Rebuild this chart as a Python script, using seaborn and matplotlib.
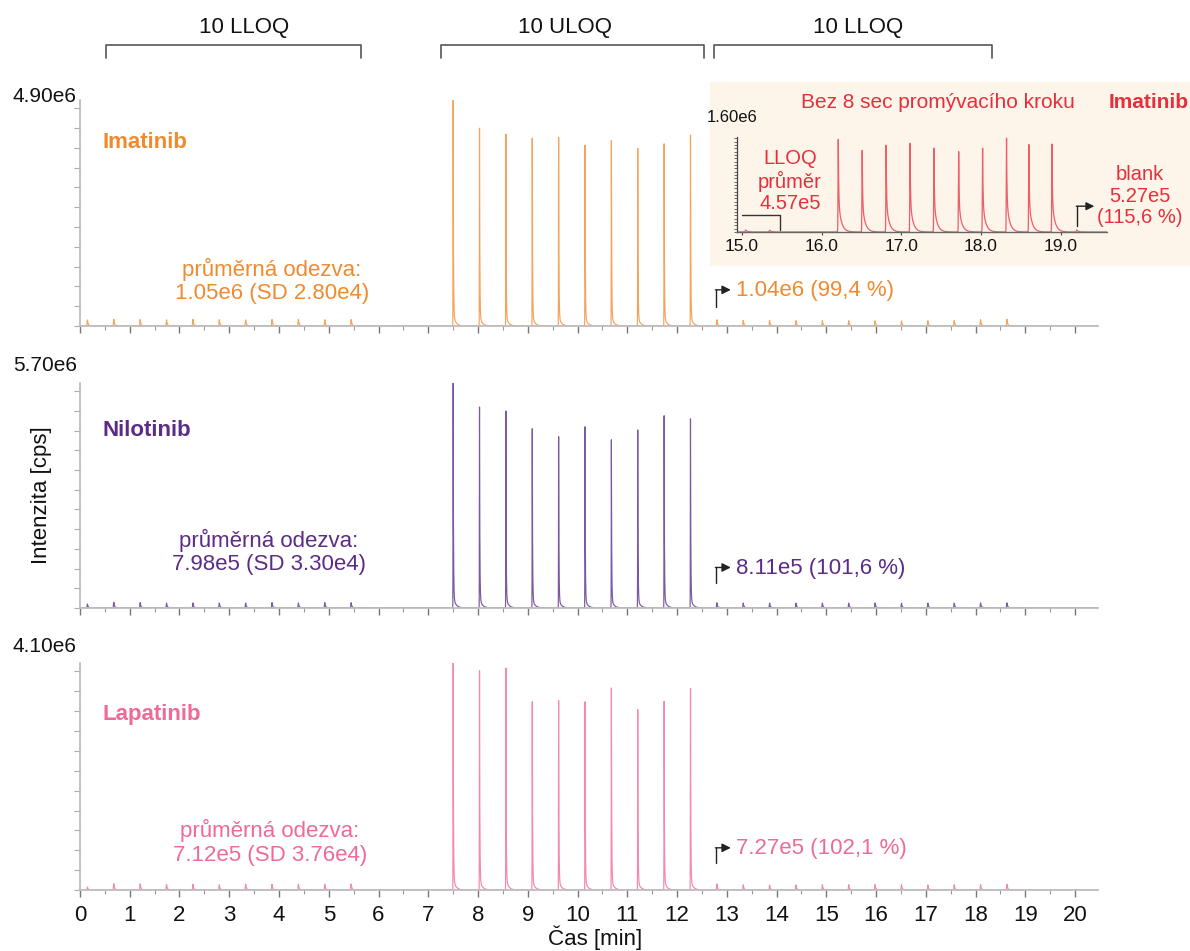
import numpy as np
import pandas as pd
import matplotlib
matplotlib.use("Agg")
import matplotlib.pyplot as plt
import matplotlib.transforms as mtransforms
from matplotlib.patches import Rectangle
from matplotlib.ticker import MultipleLocator, FixedLocator
import seaborn as sns

sns.set_theme(style="white")
plt.rcParams["font.family"] = ["Liberation Sans", "DejaVu Sans"]

# ---------------- retention times of the injections (min) ----------------
lloq_pre_times = [0.15, 0.68, 1.21, 1.74, 2.27, 2.80, 3.33, 3.86, 4.39, 4.92, 5.45]
uloq_times = [7.50, 8.03, 8.56, 9.09, 9.62, 10.15, 10.68, 11.21, 11.74, 12.27]
lloq_post_times = [12.80, 13.33, 13.86, 14.39, 14.92, 15.45, 15.98, 16.51, 17.04,
                   17.57, 18.10, 18.63]

# ---------------- apex intensities (cps) ----------------
ima_pre = [1.30e5, 1.45e5, 1.38e5, 1.33e5, 1.42e5, 1.36e5, 1.31e5, 1.40e5, 1.44e5, 1.35e5, 1.39e5]
ima_uloq = [4.90e6, 4.29e6, 4.16e6, 4.07e6, 4.09e6, 3.92e6, 4.02e6, 3.85e6, 3.95e6, 4.14e6]
ima_post = [1.35e5, 1.22e5, 1.18e5, 1.15e5, 1.16e5, 1.14e5, 1.12e5, 1.10e5, 1.15e5, 1.16e5, 1.36e5, 1.45e5]

nil_pre = [1.00e5, 1.45e5, 1.35e5, 1.25e5, 1.26e5, 1.24e5, 1.25e5, 1.36e5, 1.27e5, 1.35e5, 1.34e5]
nil_uloq = [5.70e6, 5.09e6, 4.99e6, 4.54e6, 4.34e6, 4.59e6, 4.26e6, 4.51e6, 4.87e6, 4.79e6]
nil_post = [1.30e5, 1.25e5, 1.22e5, 1.20e5, 1.24e5, 1.21e5, 1.26e5, 1.20e5, 1.23e5, 1.22e5, 1.28e5, 1.30e5]

lap_pre = [0.55e5, 1.15e5, 1.10e5, 1.05e5, 1.05e5, 0.95e5, 1.08e5, 1.05e5, 1.05e5, 1.07e5, 1.10e5]
lap_uloq = [4.10e6, 3.96e6, 4.01e6, 3.40e6, 3.42e6, 3.40e6, 3.65e6, 3.26e6, 3.41e6, 3.64e6]
lap_post = [1.10e5, 0.95e5, 0.90e5, 0.92e5, 0.95e5, 0.96e5, 0.98e5, 0.97e5, 0.92e5, 0.95e5, 1.00e5, 1.05e5]

# ---------------- inset: Imatinib without the 8 s wash step ----------------
ins_lloq_times = [15.05, 15.35]
ins_lloq = [3.5e4, 3.0e4]
ins_uloq_times = [16.21, 16.51, 16.81, 17.11, 17.41, 17.72, 18.02, 18.32, 18.60, 18.89]
ins_uloq = [1.58e6, 1.39e6, 1.48e6, 1.51e6, 1.43e6, 1.37e6, 1.43e6, 1.60e6, 1.49e6, 1.50e6]
ins_blank_times = [19.20]
ins_blank = [3.5e4]

compounds = ["Imatinib", "Nilotinib", "Lapatinib"]
y_max = [4.90e6, 5.70e6, 4.10e6]
y_max_labels = ["4.90e6", "5.70e6", "4.10e6"]
mean_labels = ["průměrná odezva:\n1.05e6 (SD 2.80e4)",
               "průměrná odezva:\n7.98e5 (SD 3.30e4)",
               "průměrná odezva:\n7.12e5 (SD 3.76e4)"]
blank_labels = ["1.04e6 (99,4 %)", "8.11e5 (101,6 %)", "7.27e5 (102,1 %)"]
bracket_labels = ["10 LLOQ", "10 ULOQ", "10 LLOQ"]
bracket_spans = [(0.52, 5.64), (7.26, 12.54), (12.74, 18.33)]
bracket_text_x = [3.30, 9.75, 15.63]

text_colors = ["#f08a2e", "#5b2c86", "#ee6a98"]
line_colors = ["#f4a35c", "#7a58a3", "#f488ae"]
RED = "#e5303b"
RED_LINE = "#ee5e69"


def chromatogram(t, times, heights, rise, fast, slow, slow_frac):
    """Sum of sharp-fronted, tailing peaks sampled on the time grid t."""
    y = np.zeros_like(t)
    for t0, h in zip(times, heights):
        dt = t - t0
        front = np.exp(-0.5 * (np.minimum(dt, 0) / rise) ** 2)
        d = np.maximum(dt, 0)
        tail = (1 - slow_frac) * np.exp(-d / fast) + slow_frac * np.exp(-d / slow)
        y += h * np.where(dt < 0, front, tail)
    return y


t = np.arange(0.0, 20.46, 0.0005)

fig = plt.figure(figsize=(11.9, 9.51), dpi=100)
left, width = 0.0672, 0.8555
positions = [(0.6572, 0.2376), (0.3607, 0.2366), (0.0641, 0.2387)]
axes = [fig.add_axes([left, b, width, h]) for b, h in positions]

series = [(ima_pre, ima_uloq, ima_post), (nil_pre, nil_uloq, nil_post),
          (lap_pre, lap_uloq, lap_post)]

name_pos = [0.81, 0.79, 0.775]
mean_pos = [(3.86, 0.20), (3.80, 0.25), (3.82, 0.21)]
arrow_y = [(0.084, 0.160), (0.111, 0.180), (0.119, 0.186)]
ymax_label_y = [1.015, 1.076, 1.075]

for i, ax in enumerate(axes):
    pre, uloq, post = series[i]
    y = (chromatogram(t, lloq_pre_times, pre, 0.006, 0.012, 0.04, 0.2)
         + chromatogram(t, uloq_times, uloq, 0.0025, 0.006, 0.05, 0.05)
         + chromatogram(t, lloq_post_times, post, 0.006, 0.012, 0.04, 0.2))
    df = pd.DataFrame({"Čas [min]": t, "cps": y})
    sns.lineplot(data=df, x="Čas [min]", y="cps", ax=ax, color=line_colors[i],
                 lw=0.85, estimator=None, sort=False, errorbar=None)
    ax.set_xlim(0, 20.46)
    ax.set_ylim(0, y_max[i])
    ax.set_xlabel("")
    ax.set_ylabel("")
    for s in ("top", "right"):
        ax.spines[s].set_visible(False)
    for s in ("left", "bottom"):
        ax.spines[s].set_color("#bdbdbd")
        ax.spines[s].set_linewidth(1.3)
    ax.xaxis.set_major_locator(MultipleLocator(1))
    ax.xaxis.set_minor_locator(MultipleLocator(0.5))
    ax.yaxis.set_major_locator(MultipleLocator(y_max[i] / 11.42))
    ax.tick_params(axis="x", which="major", direction="out", length=5, width=1,
                   color="#777777", labelsize=16, pad=6, labelcolor="#111111",
                   labelbottom=(i == 2), bottom=True)
    ax.tick_params(axis="x", which="minor", direction="out", length=3, width=0.8,
                   color="#999999", bottom=True)
    ax.tick_params(axis="y", which="major", direction="out", length=4, width=0.8,
                   color="#aaaaaa", labelleft=False, left=True)

    trans = mtransforms.blended_transform_factory(ax.transData, ax.transAxes)
    ax.text(-0.003, ymax_label_y[i], y_max_labels[i], transform=ax.transAxes,
            ha="right", va="center", fontsize=15, color="#111111")
    ax.text(0.46, name_pos[i], compounds[i], transform=trans,
            ha="left", va="center", fontsize=16, fontweight="bold", color=text_colors[i])
    mx, my = mean_pos[i]
    ax.text(mx, my, mean_labels[i], transform=trans,
            ha="center", va="center", fontsize=16, color=text_colors[i], linespacing=1.15)

    # bent arrow pointing at the blank after the ULOQ series
    y0, y1 = arrow_y[i]
    ax.plot([12.78, 12.78], [y0, y1], color="#222222", lw=1.0, transform=trans,
            clip_on=False)
    ax.annotate("", xy=(13.08, y1), xytext=(12.77, y1), xycoords=trans, textcoords=trans,
                arrowprops=dict(arrowstyle="-|>", color="#222222", lw=1.0,
                                mutation_scale=13, shrinkA=0, shrinkB=0))
    ax.text(13.18, y1 - 0.005, blank_labels[i], transform=trans, ha="left", va="center",
            fontsize=16, color=text_colors[i])

# injection-sequence brackets above the top panel
top = axes[0]
trans_top = mtransforms.blended_transform_factory(top.transData, top.transAxes)
for (a, b), lab, tx in zip(bracket_spans, bracket_labels, bracket_text_x):
    top.plot([a, a, b, b], [1.186, 1.243, 1.243, 1.186], color="#555555", lw=1.2,
             transform=trans_top, clip_on=False)
    top.text(tx, 1.323, lab, transform=trans_top, ha="center", va="center",
             fontsize=16, color="#111111")

fig.text(0.035, 0.4795, "Intenzita [cps]", rotation=90, ha="center", va="center",
         fontsize=16, color="#111111")
fig.text(0.5, 1 - 938 / 951, "Čas [min]", ha="center", va="center", fontsize=16,
         color="#111111")

# ---------------- inset panel ----------------
backdrop = Rectangle((710 / 1190, 1 - 266 / 951), 480 / 1190, 184 / 951,
                     transform=fig.transFigure, facecolor="#fdf4ea",
                     edgecolor="none", zorder=1)
fig.add_artist(backdrop)
ins = fig.add_axes([737 / 1190, 1 - 232 / 951, 370 / 1190, 95 / 951])
ins.set_zorder(3)
ins.set_facecolor("none")
ti = np.arange(14.94, 19.58, 0.0005)
yi = (chromatogram(ti, ins_lloq_times, ins_lloq, 0.006, 0.012, 0.04, 0.3)
      + chromatogram(ti, ins_uloq_times, ins_uloq, 0.003, 0.005, 0.035, 0.35)
      + chromatogram(ti, ins_blank_times, ins_blank, 0.006, 0.012, 0.04, 0.3))
dfi = pd.DataFrame({"t": ti, "cps": yi})
sns.lineplot(data=dfi, x="t", y="cps", ax=ins, color=RED_LINE, lw=0.9,
             estimator=None, sort=False, errorbar=None)
ins.set_xlim(14.94, 19.58)
ins.set_ylim(0, 1.62e6)
ins.set_xlabel("")
ins.set_ylabel("")
for s in ("top", "right"):
    ins.spines[s].set_visible(False)
ins.spines["left"].set_color("#444444")
ins.spines["left"].set_linewidth(0.9)
ins.spines["bottom"].set_color("#666666")
ins.spines["bottom"].set_linewidth(1.0)
ins.xaxis.set_major_locator(FixedLocator([15, 16, 17, 18, 19]))
ins.set_xticklabels(["15.0", "16.0", "17.0", "18.0", "19.0"])
ins.yaxis.set_major_locator(MultipleLocator(1.6e6 / 28))
ins.tick_params(axis="x", direction="out", length=2, width=0.8, color="#444444",
                labelsize=12.5, pad=3, labelcolor="#111111", bottom=True)
ins.tick_params(axis="y", direction="out", length=2, width=0.6, color="#555555",
                labelleft=False, left=True)
ins.plot([15.0, 15.48, 15.48], [2.9e5, 2.9e5, 0.3e5], color="#333333", lw=1.0)
ins.plot([19.2, 19.2], [1.0e5, 4.4e5], color="#222222", lw=1.0, clip_on=False)
ins.annotate("", xy=(19.42, 4.4e5), xytext=(19.195, 4.4e5),
             arrowprops=dict(arrowstyle="-|>", color="#222222", lw=1.0,
                             mutation_scale=12, shrinkA=0, shrinkB=0),
             annotation_clip=False)

fig.text(732 / 1190, 1 - 118 / 951, "1.60e6", ha="center", va="center", fontsize=12,
         color="#111111", zorder=4)
fig.text(938 / 1190, 1 - 103 / 951, "Bez 8 sec promývacího kroku", ha="center",
         va="center", fontsize=15, color=RED, zorder=4)
fig.text(0.999, 1 - 103 / 951, "Imatinib", ha="right", va="center", fontsize=15,
         fontweight="bold", color=RED, zorder=4)
fig.text(790 / 1190, 1 - 181 / 951, "LLOQ\nprůměr\n4.57e5", ha="center", va="center",
         fontsize=14.5, color=RED, linespacing=1.15, zorder=4)
fig.text(1140 / 1190, 1 - 196 / 951, "blank\n5.27e5\n(115,6 %)", ha="center",
         va="center", fontsize=14.5, color=RED, linespacing=1.15, zorder=4)

fig.savefig("out.png", dpi=100)
